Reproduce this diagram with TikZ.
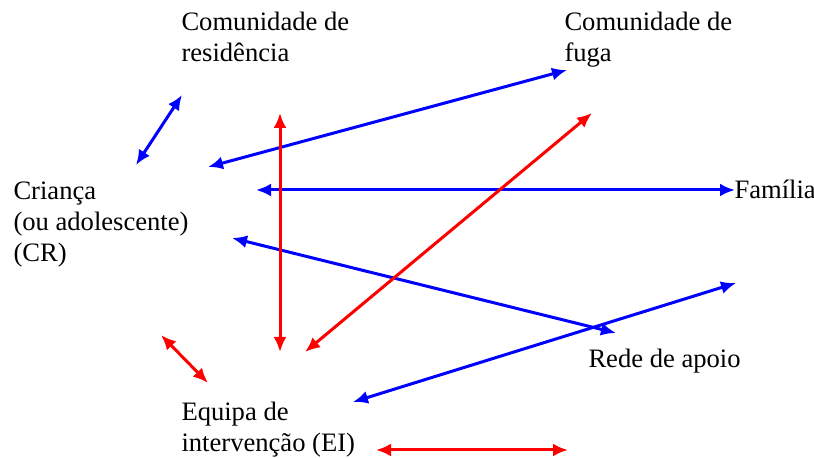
\documentclass[tikz,border=0pt]{standalone}
\usepackage{fontspec}
\setmainfont{Liberation Serif}
\usepackage{tikz}
\usetikzlibrary{arrows.meta}

\begin{document}
\begin{tikzpicture}[x=0.5pt, y=-0.5pt, <->, >={Latex[length=7.5pt,width=6.5pt]}, line width=1.5pt,
	actor/.style={anchor=base west, align=left, inner sep=0pt, font=\fontsize{13.3}{15.7}\selectfont}]
	\useasboundingbox (0,0) rectangle (814,458);
	\node[actor] (res)  at (180,62)  {Comunidade de\\residência};
	\node[actor] (fuga) at (563,62)  {Comunidade de\\fuga};
	\node[actor] (cr)   at (12,262)  {Criança\\(ou adolescente)\\(CR)};
	\node[actor] (fam)  at (733,199) {Família};
	\node[actor] (rede) at (587,368) {Rede de apoio};
	\node[actor] (ei)   at (180,452) {Equipa de\\intervenção (EI)};
	
	% pontas das setas
	\coordinate (b1a) at (136,165); \coordinate (b1b) at (182,95);
	\coordinate (b2a) at (208,167); \coordinate (b2b) at (567,70);
	\coordinate (b3a) at (256,190); \coordinate (b3b) at (735,190);
	\coordinate (b4a) at (232,238); \coordinate (b4b) at (616,333);
	\coordinate (b5a) at (353,402); \coordinate (b5b) at (736,283);
	\coordinate (v1a) at (280,113); \coordinate (v1b) at (280,352);
	\coordinate (v2a) at (305,352); \coordinate (v2b) at (592,113);
	\coordinate (v3a) at (161,335); \coordinate (v3b) at (208,383);
	\coordinate (v4a) at (376,450); \coordinate (v4b) at (568,450);
	
	\path[blue] (b1a) edge (b1b)
	(b2a) edge (b2b)
	(b3a) edge (b3b)
	(b4a) edge (b4b)
	(b5a) edge (b5b);
	\path[red] (v1a) edge (v1b)
	(v2a) edge (v2b)
	(v3a) edge (v3b)
	(v4a) edge (v4b);
\end{tikzpicture}
\end{document}
